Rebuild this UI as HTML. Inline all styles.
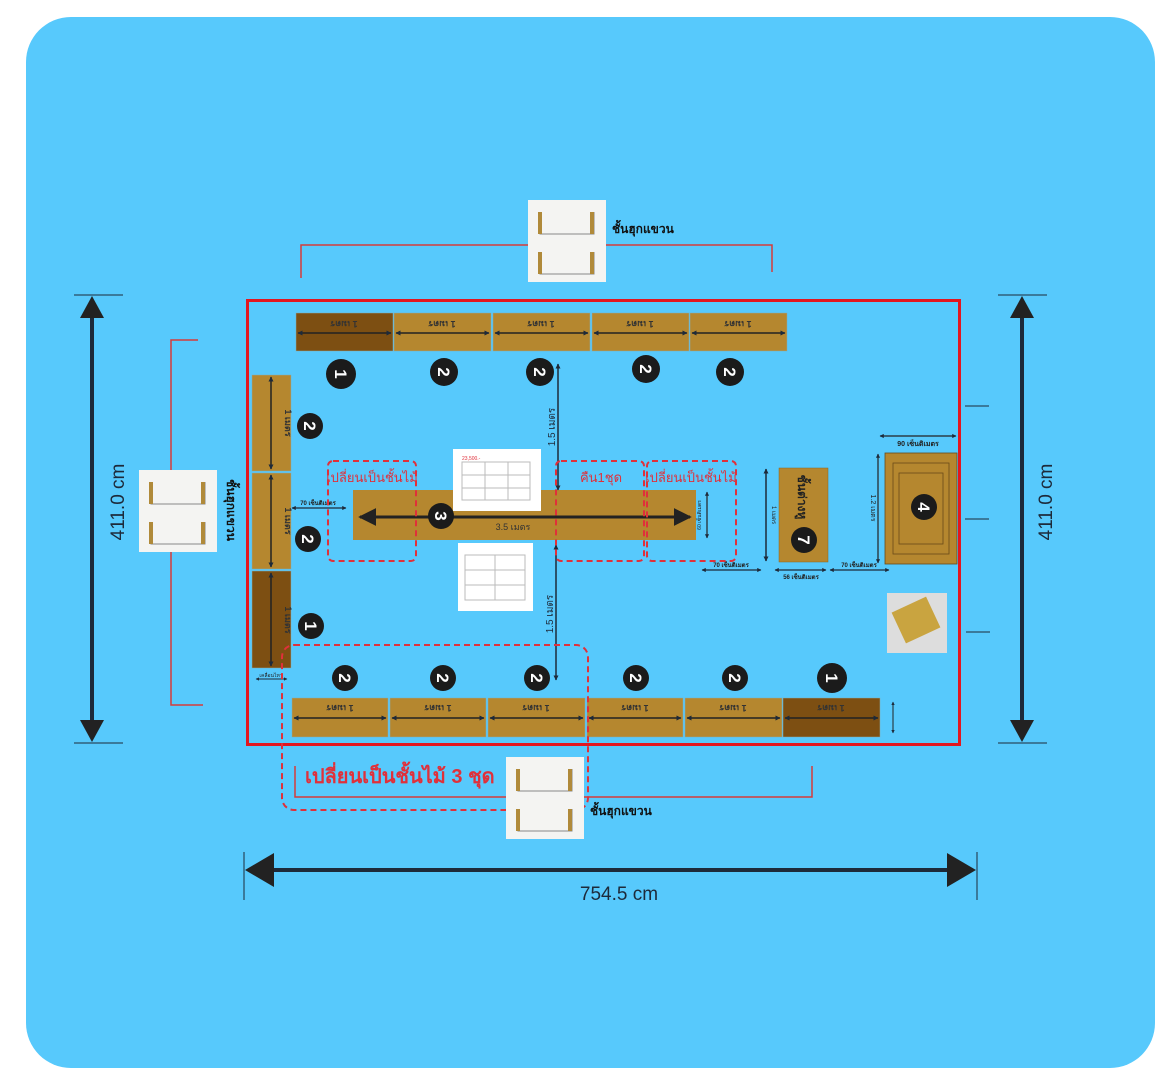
<!DOCTYPE html>
<html><head><meta charset="utf-8"><style>
html,body{margin:0;padding:0;background:#fff;}
svg{display:block;}
text{font-family:"Liberation Sans","Noto Sans CJK SC",sans-serif;}
</style></head><body>
<svg width="1176" height="1085" viewBox="0 0 1176 1085" xmlns="http://www.w3.org/2000/svg">
<defs>
<marker id="s" viewBox="0 0 10 10" refX="9" refY="5" markerWidth="3.5" markerHeight="3.5" orient="auto-start-reverse"><path d="M0,0 L10,5 L0,10 z" fill="#1d2a3a"/></marker>
<marker id="b" viewBox="0 0 10 10" refX="9" refY="5" markerWidth="6" markerHeight="6" orient="auto-start-reverse"><path d="M0,0 L10,5 L0,10 z" fill="#222"/></marker>
<g id="img"><rect width="78" height="82" fill="#f4f4f2"/><path d="M12,12 L12,34 L66,34 L66,12 M12,52 L12,74 L66,74 L66,52" stroke="#888" fill="none"/><rect x="10" y="12" width="4" height="22" fill="#b08a3a"/><rect x="62" y="12" width="4" height="22" fill="#b08a3a"/><rect x="10" y="52" width="4" height="22" fill="#b08a3a"/><rect x="62" y="52" width="4" height="22" fill="#b08a3a"/></g>
</defs>
<rect x="26" y="17" width="1129" height="1051" rx="45" fill="#57C9FC"/>

<path d="M301,278 V245 H772 V272" stroke="#d63a3a" stroke-width="1.5" fill="none"/>
<path d="M198,340 H171 V705 H203" stroke="#d63a3a" stroke-width="1.5" fill="none"/>
<path d="M295,766 V797 H812 V766" stroke="#d63a3a" stroke-width="1.5" fill="none"/>
<g stroke="#1d2a3a" stroke-width="1"><line x1="965" y1="406" x2="989" y2="406"/><line x1="965" y1="519" x2="989" y2="519"/><line x1="966" y1="632" x2="990" y2="632"/></g>

<g stroke="#1d2a3a" stroke-width="1"><line x1="74" y1="295" x2="123" y2="295"/><line x1="74" y1="743" x2="123" y2="743"/><line x1="998" y1="295" x2="1047" y2="295"/><line x1="998" y1="743" x2="1047" y2="743"/><line x1="244" y1="852" x2="244" y2="900"/><line x1="977" y1="852" x2="977" y2="900"/></g>
<g stroke="#1d2a3a" stroke-width="4"><line x1="92" y1="310" x2="92" y2="728"/><line x1="1022" y1="310" x2="1022" y2="728"/><line x1="260" y1="870" x2="962" y2="870"/></g>
<g fill="#222"><path d="M92,296 L80,318 L104,318z"/><path d="M92,742 L80,720 L104,720z"/><path d="M1022,296 L1010,318 L1034,318z"/><path d="M1022,742 L1010,720 L1034,720z"/><path d="M245,870 L274,853 L274,887z"/><path d="M976,870 L947,853 L947,887z"/></g>
<text x="0" y="0" font-size="19" fill="#1d2a3a" text-anchor="middle" transform="translate(124,502) rotate(-90)">411.0 cm</text>
<text x="0" y="0" font-size="19" fill="#1d2a3a" text-anchor="middle" transform="translate(1052,502) rotate(-90)">411.0 cm</text>
<text x="619" y="900" font-size="19" fill="#1d2a3a" text-anchor="middle">754.5  cm</text>

<rect x="247.5" y="300.5" width="712" height="444" fill="none" stroke="#e3161f" stroke-width="3"/>

<g stroke="#8aa" stroke-width="0.5">
<rect x="296" y="313" width="97" height="38" fill="#7d4f12"/>
<rect x="394" y="313" width="97" height="38" fill="#b5872f"/>
<rect x="493" y="313" width="97" height="38" fill="#b5872f"/>
<rect x="592" y="313" width="97" height="38" fill="#b5872f"/>
<rect x="690" y="313" width="97" height="38" fill="#b5872f"/>
</g>
<g stroke="#222" stroke-width="1.5" marker-start="url(#s)" marker-end="url(#s)">
<line x1="298" y1="333" x2="391" y2="333"/><line x1="396" y1="333" x2="489" y2="333"/><line x1="495" y1="333" x2="588" y2="333"/><line x1="594" y1="333" x2="687" y2="333"/><line x1="692" y1="333" x2="785" y2="333"/>
</g>
<g font-size="9" font-weight="bold" fill="#333" text-anchor="middle">
<text transform="translate(344,321) rotate(180)">1 เมตร</text><text transform="translate(442,321) rotate(180)">1 เมตร</text><text transform="translate(541,321) rotate(180)">1 เมตร</text><text transform="translate(640,321) rotate(180)">1 เมตร</text><text transform="translate(738,321) rotate(180)">1 เมตร</text>
</g>

<g stroke="#8aa" stroke-width="0.5">
<rect x="292" y="698" width="96" height="39" fill="#b5872f"/>
<rect x="390" y="698" width="96" height="39" fill="#b5872f"/>
<rect x="488" y="698" width="97" height="39" fill="#b5872f"/>
<rect x="587" y="698" width="96" height="39" fill="#b5872f"/>
<rect x="685" y="698" width="97" height="39" fill="#b5872f"/>
<rect x="783" y="698" width="97" height="39" fill="#7d4f12"/>
</g>
<g stroke="#222" stroke-width="1.5" marker-start="url(#s)" marker-end="url(#s)">
<line x1="294" y1="718" x2="386" y2="718"/><line x1="392" y1="718" x2="484" y2="718"/><line x1="490" y1="718" x2="583" y2="718"/><line x1="589" y1="718" x2="681" y2="718"/><line x1="687" y1="718" x2="780" y2="718"/><line x1="785" y1="718" x2="878" y2="718"/>
</g>
<g font-size="9" font-weight="bold" fill="#333" text-anchor="middle">
<text transform="translate(340,705) rotate(180)">1 เมตร</text><text transform="translate(438,705) rotate(180)">1 เมตร</text><text transform="translate(536,705) rotate(180)">1 เมตร</text><text transform="translate(635,705) rotate(180)">1 เมตร</text><text transform="translate(733,705) rotate(180)">1 เมตร</text><text transform="translate(831,705) rotate(180)">1 เมตร</text>
</g>
<line x1="893" y1="702" x2="893" y2="733" stroke="#222" stroke-width="1" marker-start="url(#s)" marker-end="url(#s)"/>

<g stroke="#8aa" stroke-width="0.5">
<rect x="252" y="375" width="39" height="96" fill="#b5872f"/>
<rect x="252" y="473" width="39" height="96" fill="#b5872f"/>
<rect x="252" y="571" width="39" height="97" fill="#7d4f12"/>
</g>
<g stroke="#222" stroke-width="1.5" marker-start="url(#s)" marker-end="url(#s)">
<line x1="271" y1="377" x2="271" y2="469"/><line x1="271" y1="475" x2="271" y2="567"/><line x1="271" y1="573" x2="271" y2="666"/>
</g>
<g font-size="9" font-weight="bold" fill="#333" text-anchor="middle">
<text transform="translate(285,423) rotate(90)">1 เมตร</text><text transform="translate(285,521) rotate(90)">1 เมตร</text><text transform="translate(285,620) rotate(90)">1 เมตร</text>
</g>
<line x1="256" y1="679" x2="287" y2="679" stroke="#1d2a3a" stroke-width="1" marker-start="url(#s)" marker-end="url(#s)"/>
<text x="271" y="677" font-size="5" fill="#222" text-anchor="middle">เคลื่อนไหว</text>

<rect x="353" y="490" width="343" height="50" fill="#b5872f"/>
<line x1="360" y1="517" x2="690" y2="517" stroke="#222" stroke-width="3" marker-start="url(#b)" marker-end="url(#b)"/>
<text x="513" y="530" font-size="9" fill="#333" text-anchor="middle">3.5 เมตร</text>
<line x1="292" y1="508" x2="346" y2="508" stroke="#1d2a3a" stroke-width="1.2" marker-start="url(#s)" marker-end="url(#s)"/>
<text x="318" y="505" font-size="6" font-weight="bold" fill="#222" text-anchor="middle">70 เซ็นติเมตร</text>
<line x1="707" y1="492" x2="707" y2="538" stroke="#222" stroke-width="1.2" marker-start="url(#s)" marker-end="url(#s)"/>
<text transform="translate(701,515) rotate(-90)" font-size="5" fill="#222" text-anchor="middle">60 เซ็นติเมตร</text>

<line x1="558" y1="364" x2="558" y2="490" stroke="#1d2a3a" stroke-width="1.5" marker-start="url(#s)" marker-end="url(#s)"/>
<line x1="556" y1="545" x2="556" y2="680" stroke="#1d2a3a" stroke-width="1.5" marker-start="url(#s)" marker-end="url(#s)"/>
<text transform="translate(555,427) rotate(-90)" font-size="10" fill="#1d2a3a" text-anchor="middle">1.5 เมตร</text>
<text transform="translate(553,614) rotate(-90)" font-size="10" fill="#1d2a3a" text-anchor="middle">1.5 เมตร</text>

<rect x="779" y="468" width="49" height="94" fill="#b5872f" stroke="#8a6420" stroke-width="0.5"/>
<text transform="translate(798,497) rotate(90)" font-size="12" font-weight="bold" fill="#222" text-anchor="middle">ชั้นต่างหู</text>
<line x1="766" y1="469" x2="766" y2="561" stroke="#1d2a3a" stroke-width="1.5" marker-start="url(#s)" marker-end="url(#s)"/>
<text transform="translate(772,515) rotate(90)" font-size="6" fill="#222" text-anchor="middle">1 เมตร</text>
<line x1="702" y1="570" x2="761" y2="570" stroke="#1d2a3a" stroke-width="1.2" marker-start="url(#s)" marker-end="url(#s)"/>
<text x="731" y="567" font-size="6" font-weight="bold" fill="#222" text-anchor="middle">70 เซ็นติเมตร</text>
<line x1="775" y1="570" x2="826" y2="570" stroke="#1d2a3a" stroke-width="1.2" marker-start="url(#s)" marker-end="url(#s)"/>
<text x="801" y="579" font-size="6" font-weight="bold" fill="#222" text-anchor="middle">56 เซ็นติเมตร</text>
<line x1="830" y1="570" x2="889" y2="570" stroke="#1d2a3a" stroke-width="1.2" marker-start="url(#s)" marker-end="url(#s)"/>
<text x="859" y="567" font-size="6" font-weight="bold" fill="#222" text-anchor="middle">70 เซ็นติเมตร</text>

<rect x="885" y="453" width="72" height="111" fill="#b5872f" stroke="#6a4a18" stroke-width="0.8"/>
<rect x="893" y="463" width="56" height="91" fill="none" stroke="#6a4a18" stroke-width="0.8"/>
<rect x="899" y="473" width="44" height="71" fill="none" stroke="#6a4a18" stroke-width="0.8"/>
<line x1="880" y1="436" x2="956" y2="436" stroke="#222" stroke-width="1.2" marker-start="url(#s)" marker-end="url(#s)"/>
<text x="918" y="446" font-size="7" font-weight="bold" fill="#222" text-anchor="middle">90 เซ็นติเมตร</text>
<line x1="878" y1="454" x2="878" y2="563" stroke="#222" stroke-width="1.2" marker-start="url(#s)" marker-end="url(#s)"/>
<text transform="translate(871,508) rotate(90)" font-size="7" fill="#222" text-anchor="middle">1.2 เมตร</text>

<g fill="#1b1b1b">
<circle cx="341" cy="374" r="15"/><circle cx="444" cy="372" r="14"/><circle cx="540" cy="372" r="14"/><circle cx="646" cy="369" r="14"/><circle cx="730" cy="372" r="14"/>
<circle cx="310" cy="426" r="13"/><circle cx="308" cy="539" r="13"/><circle cx="311" cy="626" r="13"/>
<circle cx="441" cy="516" r="13"/><circle cx="804" cy="540" r="13"/><circle cx="924" cy="507" r="13"/>
<circle cx="345" cy="678" r="13"/><circle cx="443" cy="678" r="13"/><circle cx="537" cy="678" r="13"/><circle cx="636" cy="678" r="13"/><circle cx="735" cy="678" r="13"/><circle cx="832" cy="678" r="15"/>
</g>
<g fill="#fff" font-size="17" font-weight="bold" text-anchor="middle">
<text transform="translate(335,374) rotate(90)">1</text><text transform="translate(438,372) rotate(90)">2</text><text transform="translate(534,372) rotate(90)">2</text><text transform="translate(640,369) rotate(90)">2</text><text transform="translate(724,372) rotate(90)">2</text>
<text transform="translate(304,426) rotate(90)">2</text><text transform="translate(302,539) rotate(90)">2</text><text transform="translate(305,626) rotate(90)">1</text>
<text transform="translate(435,516) rotate(90)">3</text><text transform="translate(798,540) rotate(90)">7</text><text transform="translate(918,507) rotate(90)">4</text>
<text transform="translate(339,678) rotate(90)">2</text><text transform="translate(437,678) rotate(90)">2</text><text transform="translate(531,678) rotate(90)">2</text><text transform="translate(630,678) rotate(90)">2</text><text transform="translate(729,678) rotate(90)">2</text><text transform="translate(826,678) rotate(90)">1</text>
</g>

<g fill="none" stroke="#e0303a" stroke-width="2" stroke-dasharray="6,4">
<rect x="328" y="461" width="88" height="100" rx="5"/>
<rect x="556" y="461" width="88" height="100" rx="5"/>
<rect x="647" y="461" width="89" height="100" rx="5"/>
<rect x="282" y="645" width="306" height="165" rx="12"/>
</g>
<g fill="#e0303a" font-size="13" text-anchor="middle">
<text x="372" y="482">เปลี่ยนเป็นชั้นไม้</text><text x="601" y="482">คืน1ชุด</text><text x="691" y="482">เปลี่ยนเป็นชั้นไม้</text>
</g>
<text x="305" y="783" font-size="20" font-weight="bold" fill="#e0303a">เปลี่ยนเป็นชั้นไม้ 3 ชุด</text>

<use href="#img" x="528" y="200"/>
<use href="#img" x="139" y="470"/>
<use href="#img" x="506" y="757"/>
<rect x="453" y="449" width="88" height="62" fill="#fff"/>
<path d="M462,462 L530,462 L530,500 L462,500z M462,475 H530 M462,488 H530 M485,462 V500 M508,462 V500" stroke="#bbb" fill="none"/>
<text x="462" y="460" font-size="5" fill="#e0303a">23,500.-</text>
<rect x="458" y="543" width="75" height="68" fill="#fff"/>
<path d="M465,555 L525,555 L525,600 L465,600z M465,570 H525 M465,585 H525 M495,555 V600" stroke="#bbb" fill="none"/>
<rect x="887" y="593" width="60" height="60" fill="#ddd"/>
<rect x="897" y="603" width="38" height="34" fill="#c9a440" transform="rotate(-25 916 620)"/>

<g font-size="12" font-weight="bold" fill="#111">
<text x="612" y="233">ชั้นฮุกแขวน</text>
<text x="590" y="815">ชั้นฮุกแขวน</text>
<text transform="translate(227,510) rotate(90)" text-anchor="middle">ชั้นฮุกแขวน</text>
</g>
</svg>
</body></html>
